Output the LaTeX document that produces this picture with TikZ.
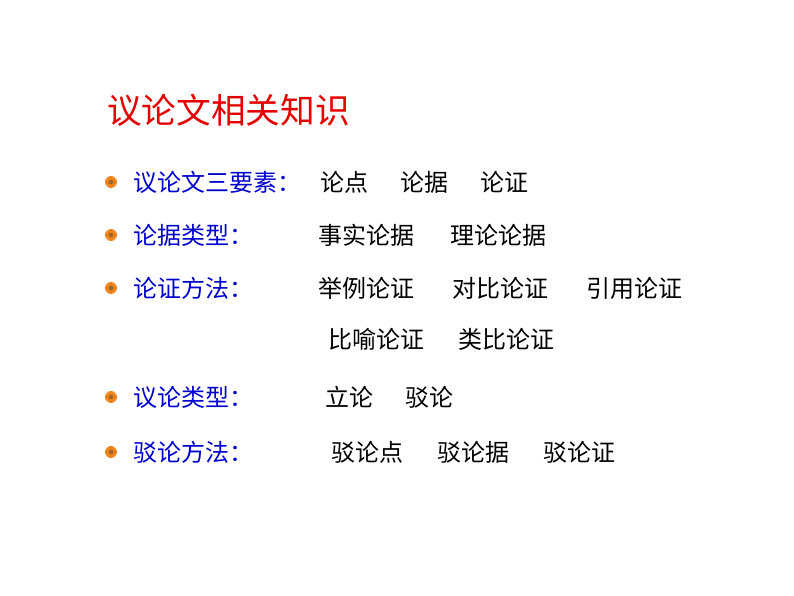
\documentclass[tikz,border=0pt]{standalone}
\usepackage{fontspec}
\usetikzlibrary{calc}
\newfontfamily\cjk{Noto Sans CJK SC}
\begin{document}
\begin{tikzpicture}[x=0.75pt,y=-0.75pt,
  ttl/.style={anchor=west,inner sep=0,font=\cjk\fontsize{26}{30}\selectfont,text=red!90!black},
  lbl/.style={anchor=west,inner sep=0,font=\cjk\fontsize{18}{22}\selectfont,text=blue!80!black},
  wd/.style={anchor=west,inner sep=0,font=\cjk\fontsize{18}{22}\selectfont,text=black},
  bul/.style={inner sep=0,minimum size=0}]
\useasboundingbox[fill=white] (0,0) rectangle (794,596);
\node[ttl] (t) at (107,110) {议论文相关知识};
\foreach \y/\n in {182/a,235/b,288/c,397/d,452/e}{
  \coordinate (b\n) at (111,\y);
  \foreach \a in {0,22.5,...,157.5}
    \draw[orange!70!brown,line width=1.2pt] ($(b\n)+(\a:6)$) -- ($(b\n)+(\a+180:6)$);
  \fill[brown!80!black] (b\n) circle (2.2);
}
\node[lbl] (la) at (133,182) {议论文三要素：};
\node[lbl] (lb) at (133,235) {论据类型：};
\node[lbl] (lc) at (133,288) {论证方法：};
\node[lbl] (ld) at (133,397) {议论类型：};
\node[lbl] (le) at (133,452) {驳论方法：};
\node[wd] (a1) at (320,182) {论点};
\node[wd] (a2) at (400,182) {论据};
\node[wd] (a3) at (480,182) {论证};
\node[wd] (b1) at (318,235) {事实论据};
\node[wd] (b2) at (450,235) {理论论据};
\node[wd] (c1) at (318,288) {举例论证};
\node[wd] (c2) at (452,288) {对比论证};
\node[wd] (c3) at (586,288) {引用论证};
\node[wd] (c4) at (328,339) {比喻论证};
\node[wd] (c5) at (458,339) {类比论证};
\node[wd] (d1) at (325,397) {立论};
\node[wd] (d2) at (405,397) {驳论};
\node[wd] (e1) at (331,452) {驳论点};
\node[wd] (e2) at (437,452) {驳论据};
\node[wd] (e3) at (543,452) {驳论证};
\end{tikzpicture}
\end{document}
